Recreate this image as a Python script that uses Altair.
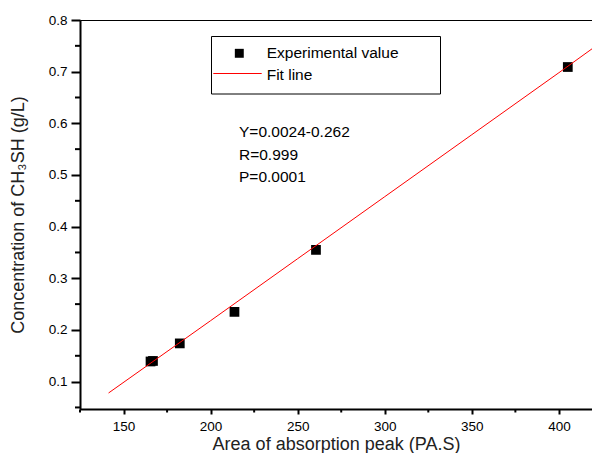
import altair as alt
import pandas as pd

# Experimental values
x_exp = [165.5, 166.9, 182.3, 213.7, 260.5, 405.1]
y_exp = [0.139, 0.140, 0.174, 0.235, 0.355, 0.709]

# Fit line points
x_fit = [141.4, 200, 250, 300, 350, 400, 421.8]
y_fit = [0.078, 0.218, 0.338, 0.458, 0.578, 0.698, 0.751]

x_major = [150, 200, 250, 300, 350, 400]
x_minor = [125, 175, 225, 275, 325, 375]
y_major = [0.1, 0.2, 0.3, 0.4, 0.5, 0.6, 0.7, 0.8]
y_minor = [0.05, 0.15, 0.25, 0.35, 0.45, 0.55, 0.65, 0.75]

legend_labels = ["Experimental value", "Fit line"]
annotations = ["Y=0.0024-0.262", "R=0.999", "P=0.0001"]

FONT = "Liberation Sans"
H = 389

exp_df = pd.DataFrame({"x": x_exp, "y": y_exp})
fit_df = pd.DataFrame({"x": x_fit, "y": y_fit})

xscale = alt.Scale(domain=[125, 419], nice=False, zero=False)
yscale = alt.Scale(domain=[0.047, 0.8], nice=False, zero=False)

xaxis = alt.Axis(
    values=x_major, format="d", labelOverlap=False,
    tickSize=5, tickWidth=2, tickColor="black", domainWidth=2, domainColor="black",
    grid=False, labelFont=FONT, labelFontSize=13.5, labelColor="black",
    labelPadding=5, title="Area of absorption peak (PA.S)",
    titleFont=FONT, titleFontSize=18, titleFontWeight="normal",
    titleColor="#222", titleBaseline="alphabetic", titleY=40,
)
yaxis = alt.Axis(
    values=y_major, format=".1f", labelOverlap=False,
    tickSize=9, tickWidth=2, tickColor="black", domainWidth=2, domainColor="black",
    grid=False, labelFont=FONT, labelFontSize=13.5, labelColor="black",
    labelPadding=4, title="Concentration of CH₃SH (g/L)",
    titleFont=FONT, titleFontSize=18, titleFontWeight="normal",
    titleColor="#222", titleBaseline="middle", titleX=-62,
)

points = alt.Chart(exp_df).mark_square(size=95, color="black", opacity=1).encode(
    x=alt.X("x:Q", scale=xscale, axis=xaxis),
    y=alt.Y("y:Q", scale=yscale, axis=yaxis),
)
line = alt.Chart(fit_df).mark_line(color="red", strokeWidth=1, clip=True).encode(
    x=alt.X("x:Q", scale=xscale),
    y=alt.Y("y:Q", scale=yscale),
)

# minor ticks (axis decorations)
xmin_ticks = alt.Chart(pd.DataFrame({"x": x_minor})).mark_tick(
    orient="vertical", color="black", size=3, thickness=2, opacity=1
).encode(x=alt.X("x:Q", scale=xscale), y=alt.value(H + 2))
ymin_ticks = alt.Chart(pd.DataFrame({"y": y_minor})).mark_tick(
    orient="horizontal", color="black", size=5, thickness=2, opacity=1
).encode(y=alt.Y("y:Q", scale=yscale), x=alt.value(-2.5))

one = pd.DataFrame({"a": [0]})
legend_box = alt.Chart(one).mark_rect(fill=None, stroke="black", strokeWidth=1).encode(
    x=alt.value(131.5), x2=alt.value(360.5), y=alt.value(16.5), y2=alt.value(74),
)
legend_sq = alt.Chart(one).mark_square(size=80, color="black", opacity=1).encode(
    x=alt.value(159.3), y=alt.value(33.3),
)
legend_line = alt.Chart(one).mark_rule(color="red", strokeWidth=1).encode(
    x=alt.value(133.3), x2=alt.value(181.7), y=alt.value(53.5),
)
legend_t1 = alt.Chart(pd.DataFrame({"t": [legend_labels[0]]})).mark_text(
    align="left", baseline="middle", font=FONT, fontSize=15.5, color="black"
).encode(x=alt.value(186.7), y=alt.value(33), text="t:N")
legend_t2 = alt.Chart(pd.DataFrame({"t": [legend_labels[1]]})).mark_text(
    align="left", baseline="middle", font=FONT, fontSize=15.5, color="black"
).encode(x=alt.value(186.7), y=alt.value(55), text="t:N")

ann_layers = []
for t, yy in zip(annotations, [111.7, 135, 156.7]):
    ann_layers.append(
        alt.Chart(pd.DataFrame({"t": [t]})).mark_text(
            align="left", baseline="middle", font=FONT, fontSize=15.5, color="black"
        ).encode(x=alt.value(159), y=alt.value(yy), text="t:N")
    )

chart = alt.layer(
    points, line, xmin_ticks, ymin_ticks,
    legend_box, legend_sq, legend_line, legend_t1, legend_t2, *ann_layers
).properties(
    width=512, height=H,
    autosize=alt.AutoSizeParams(type="none"),
    padding={"left": 72, "top": 12, "right": 0, "bottom": 44},
    background="white",
).configure_view(stroke="black", strokeWidth=1)

chart.save("out.html", embed_options={"renderer": "svg", "actions": False})
